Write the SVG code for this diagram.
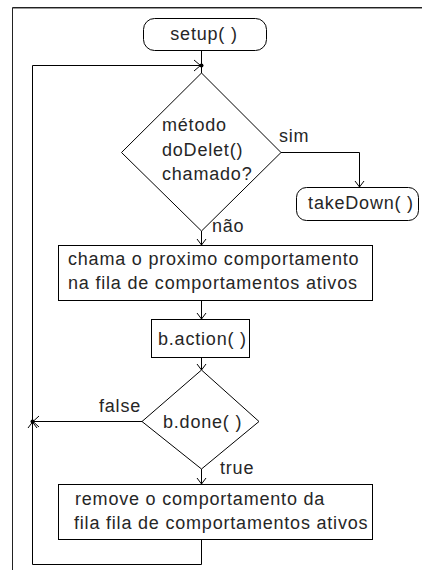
<svg xmlns="http://www.w3.org/2000/svg" width="422" height="570" viewBox="0 0 422 570">
  <style>
    .shape { fill: #ffffff; stroke: #000000; stroke-width: 1; }
    .wire { fill: none; stroke: #000000; stroke-width: 1; }
    .head { fill: none; stroke: #000000; stroke-width: 1; }
    text { font-family: "Liberation Sans", Arial, sans-serif; font-size: 18px; fill: #262626; letter-spacing: 0.8px; }
  </style>
  <rect x="0" y="0" width="422" height="570" fill="#ffffff"/>
  <!-- outer frame -->
  <g id="frame">
    <line x1="12.5" y1="7.5" x2="422" y2="7.5" stroke="#222222" stroke-width="1"/>
    <line x1="13" y1="8.5" x2="422" y2="8.5" stroke="#9a9a9a" stroke-width="1"/>
    <line x1="12.5" y1="7.5" x2="12.5" y2="570" stroke="#222222" stroke-width="1"/>
  </g>
  <!-- connectors -->
  <g id="connectors">
    <!-- setup -> junction -> decision -->
    <path class="wire" d="M201.5 51 V73"/>
    <!-- loop back: bottom box -> left rail -> top junction -->
    <path class="wire" d="M201.5 540 V564.5 H32.5 V65.5 H201"/>
    <path class="head" d="M194 60 L200.5 65.5 L194 71"/>
    <circle cx="201.5" cy="65.5" r="2" fill="#000000"/>
    <!-- sim -> takeDown -->
    <path class="wire" d="M281 152.5 H359.5 V187"/>
    <path class="head" d="M355 181 L359.5 187 L364 181"/>
    <!-- não -> first box -->
    <path class="wire" d="M201.5 231 V245"/>
    <path class="head" d="M197 239 L201.5 245 L206 239"/>
    <!-- first box -> b.action -->
    <path class="wire" d="M201.5 301 V319"/>
    <path class="head" d="M197 313 L201.5 319 L206 313"/>
    <!-- b.action -> b.done -->
    <path class="wire" d="M201.5 358 V370"/>
    <path class="head" d="M197 364 L201.5 370 L206 364"/>
    <!-- false -> left rail -->
    <path class="wire" d="M142 421.5 H33"/>
    <path class="head" d="M39 416 L33 421.5 L39 427"/>
    <path class="head" d="M28 428 L32.5 422 L37 428"/>
    <circle cx="32.5" cy="421.5" r="2" fill="#000000"/>
    <!-- true -> remove box -->
    <path class="wire" d="M201.5 469 V484"/>
    <path class="head" d="M197 478 L201.5 484 L206 478"/>
  </g>
  <!-- nodes -->
  <g id="setup">
    <rect class="shape" x="143.5" y="18.5" width="123" height="32" rx="11" ry="11"/>
    <text x="204" y="40" text-anchor="middle">setup( )</text>
  </g>
  <g id="decision-delete">
    <polygon class="shape" points="201.5,73 281,152.5 201.5,231 121.5,152.5"/>
    <text x="162" y="131">método</text>
    <text x="162" y="156">doDelet()</text>
    <text x="162" y="180">chamado?</text>
    <text x="279" y="142">sim</text>
    <text x="212" y="232">não</text>
  </g>
  <g id="takedown">
    <rect class="shape" x="296.5" y="187.5" width="122" height="33" rx="10" ry="10"/>
    <text x="361" y="209" text-anchor="middle">takeDown( )</text>
  </g>
  <g id="next-behaviour">
    <rect class="shape" x="58.5" y="245.5" width="314" height="55"/>
    <text x="68" y="265">chama o proximo comportamento</text>
    <text x="68" y="289">na fila de comportamentos ativos</text>
  </g>
  <g id="action">
    <rect class="shape" x="151.5" y="319.5" width="98" height="38"/>
    <text x="158" y="345">b.action( )</text>
  </g>
  <g id="decision-done">
    <polygon class="shape" points="201.5,370 259,421.5 201.5,469 142,421.5"/>
    <text x="163" y="428">b.done( )</text>
    <text x="99" y="412">false</text>
    <text x="220" y="474">true</text>
  </g>
  <g id="remove-behaviour">
    <rect class="shape" x="58.5" y="484.5" width="314" height="55"/>
    <text x="75" y="505">remove o comportamento da</text>
    <text x="74" y="529">fila fila de comportamentos ativos</text>
  </g>
</svg>
